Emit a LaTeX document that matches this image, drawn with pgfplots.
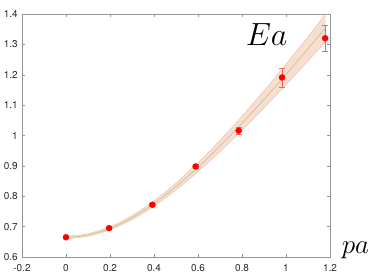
\documentclass[border=0pt]{standalone}
\usepackage{graphicx}
\usepackage{fontspec}
\setmainfont{TeX Gyre Heros}
\usepackage{pgfplots}
\pgfplotsset{compat=1.18}
\usepgfplotslibrary{fillbetween}
\definecolor{bandfill}{RGB}{246,218,204}
\definecolor{bandedge}{RGB}{236,190,170}
\definecolor{fitline}{RGB}{196,200,140}
\definecolor{errc}{RGB}{240,100,100}
\definecolor{axgray}{RGB}{150,150,150}
\definecolor{txtgray}{RGB}{40,40,40}
\begin{document}
\begin{tikzpicture}
\begin{axis}[
  scale only axis, width=308pt, height=243pt,
  xmin=-0.2, xmax=1.2, ymin=0.6, ymax=1.4,
  xtick={-0.2,0,0.2,0.4,0.6,0.8,1,1.2},
  ytick={0.6,0.7,0.8,0.9,1,1.1,1.2,1.3,1.4},
  xticklabels={-0.2,0,0.2,0.4,0.6,0.8,1,1.2},
  yticklabels={0.6,0.7,0.8,0.9,1,1.1,1.2,1.3,1.4},
  tick align=inside, major tick length=3pt,
  axis line style={axgray},
  every tick/.style={axgray},
  tick label style={font=\normalsize, text=txtgray, inner sep=0.5pt},
  xticklabel style={yshift=-6.5pt},
  yticklabel style={xshift=-3.5pt},
  clip=false,
]
\addplot[name path=up, draw=bandedge, thin] coordinates {
(0,0.6690)(0.05,0.6710)(0.1,0.6768)(0.15,0.6864)(0.2,0.6996)(0.25,0.7163)(0.3,0.7362)(0.35,0.7592)(0.4,0.7848)(0.45,0.8130)(0.5,0.8435)(0.55,0.8761)(0.6,0.9105)(0.65,0.9466)(0.7,0.9842)(0.75,1.0232)(0.8,1.0635)(0.85,1.1049)(0.9,1.1473)(0.95,1.1907)(1.0,1.2349)(1.05,1.2800)(1.1,1.3257)(1.15,1.3721)(1.18,1.4003)};
\addplot[name path=lo, draw=bandedge, thin] coordinates {
(0,0.6610)(0.05,0.6628)(0.1,0.6682)(0.15,0.6770)(0.2,0.6892)(0.25,0.7045)(0.3,0.7228)(0.35,0.7438)(0.4,0.7672)(0.45,0.7928)(0.5,0.8205)(0.55,0.8499)(0.6,0.8809)(0.65,0.9132)(0.7,0.9468)(0.75,0.9814)(0.8,1.0171)(0.85,1.0535)(0.9,1.0907)(0.95,1.1285)(1.0,1.1669)(1.05,1.2058)(1.1,1.2451)(1.15,1.2847)(1.18,1.3087)};
\addplot[bandfill, fill opacity=0.9] fill between[of=up and lo];
\addplot[fitline, line width=0.7pt, smooth] coordinates {
(0,0.6650)(0.05,0.6669)(0.1,0.6725)(0.15,0.6817)(0.2,0.6944)(0.25,0.7104)(0.3,0.7295)(0.35,0.7515)(0.4,0.7760)(0.45,0.8029)(0.5,0.8320)(0.55,0.8630)(0.6,0.8957)(0.65,0.9299)(0.7,0.9655)(0.75,1.0023)(0.8,1.0403)(0.85,1.0792)(0.9,1.1190)(0.95,1.1596)(1.0,1.2009)(1.05,1.2429)(1.1,1.2854)(1.15,1.3284)(1.18,1.3545)};
\addplot[only marks, mark=*, mark size=3pt, color=red,
  error bars/.cd, y dir=both, y explicit,
  error bar style={errc, line width=0.6pt},
  error mark options={errc, line width=0.6pt, rotate=90, mark size=3pt}]
  coordinates {
  (0,0.665) +- (0,0.003)
  (0.196,0.695) +- (0,0.004)
  (0.393,0.772) +- (0,0.005)
  (0.589,0.898) +- (0,0.007)
  (0.785,1.016) +- (0,0.012)
  (0.982,1.191) +- (0,0.031)
  (1.178,1.320) +- (0,0.044)
};
\node[anchor=base, inner sep=0pt] at (axis cs:0.912,1.297) {\scalebox{1.29}{\Huge $Ea$}};
\node[anchor=base, inner sep=0pt] at (axis cs:1.316,0.613) {\scalebox{1.09}{\Huge $pa$}};
\end{axis}
\pgfresetboundingbox
\path[use as bounding box] ([shift={(-22pt,-23pt)}]current axis.south west) rectangle ([shift={(44pt,14pt)}]current axis.north east);
\end{tikzpicture}
\end{document}
